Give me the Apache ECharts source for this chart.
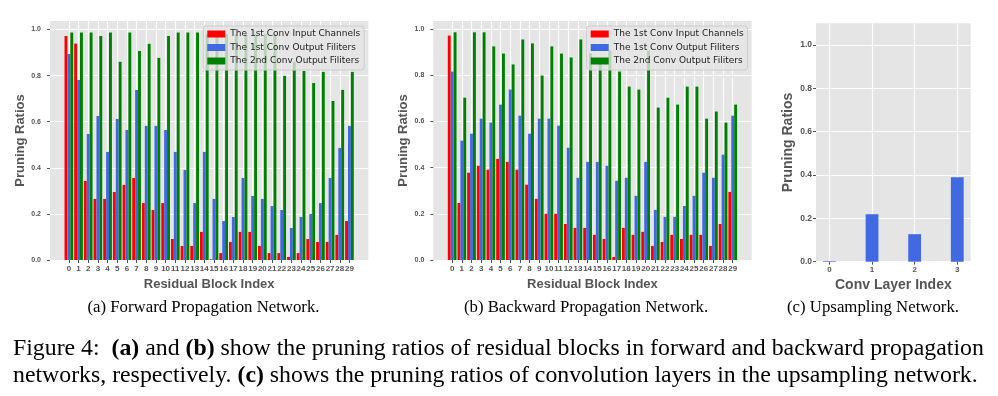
<!DOCTYPE html>
<html>
<head>
<meta charset="utf-8">
<script src="https://cdn.jsdelivr.net/npm/echarts@6/dist/echarts.min.js"></script>
<style>
html, body { margin: 0; padding: 0; background: #fff; }
#chart { width: 998px; height: 396px; }
</style>
</head>
<body>
<div id="chart"></div>
<script>
var blockIndex = [0, 1, 2, 3, 4, 5, 6, 7, 8, 9, 10, 11, 12, 13, 14, 15, 16, 17, 18, 19, 20, 21, 22, 23, 24, 25, 26, 27, 28, 29];
var layerIndex = [0, 1, 2, 3];
var yTicks = [0, 0.2, 0.4, 0.6, 0.8, 1.0];
var seriesNames = ["The 1st Conv Input Channels", "The 1st Conv Output Filiters", "The 2nd Conv Output Filiters"];

// (a) forward propagation network
var fwdInput = [0.972, 0.939, 0.343, 0.265, 0.265, 0.295, 0.326, 0.356, 0.247, 0.217, 0.247, 0.091, 0.061, 0.061, 0.122,
    0.003, 0.030, 0.078, 0.122, 0.122, 0.061, 0.030, 0.030, 0.013, 0.030, 0.091, 0.078, 0.078, 0.109, 0.169];
var fwdOutput = [0.894, 0.781, 0.547, 0.625, 0.469, 0.612, 0.564, 0.738, 0.582, 0.582, 0.564, 0.469, 0.391, 0.247, 0.469,
    0.265, 0.169, 0.187, 0.356, 0.278, 0.265, 0.234, 0.217, 0.139, 0.187, 0.200, 0.247, 0.356, 0.486, 0.582];
var fwdSecond = [0.987, 0.987, 0.987, 0.972, 0.987, 0.860, 0.987, 0.907, 0.938, 0.877, 0.972, 0.987, 0.987, 0.987, 0.980,
    0.980, 0.980, 0.980, 0.980, 0.980, 0.980, 0.980, 0.799, 0.860, 0.820, 0.768, 0.816, 0.690, 0.738, 0.816];

// (b) backward propagation network
var bwdInput = [0.972, 0.247, 0.378, 0.408, 0.391, 0.438, 0.425, 0.391, 0.326, 0.265, 0.200, 0.200, 0.156, 0.139, 0.139,
    0.109, 0.091, 0.013, 0.139, 0.109, 0.122, 0.061, 0.078, 0.109, 0.091, 0.109, 0.109, 0.061, 0.156, 0.295];
var bwdOutput = [0.816, 0.517, 0.547, 0.612, 0.595, 0.673, 0.738, 0.625, 0.547, 0.612, 0.612, 0.582, 0.486, 0.356, 0.425,
    0.425, 0.408, 0.343, 0.356, 0.278, 0.425, 0.217, 0.187, 0.187, 0.234, 0.278, 0.378, 0.356, 0.456, 0.625];
var bwdSecond = [0.986, 0.703, 0.986, 0.986, 0.925, 0.894, 0.847, 0.955, 0.938, 0.799, 0.925, 0.894, 0.877, 0.955, 0.894,
    0.864, 0.907, 0.816, 0.751, 0.738, 0.907, 0.660, 0.703, 0.673, 0.751, 0.751, 0.612, 0.643, 0.595, 0.673];

// (c) upsampling network
var upsampleRatios = [0.003, 0.219, 0.127, 0.390];

var colors = ["#ff0000", "#4169e1", "#008000"];
var grey = "#555555";
var sansBold = { fontFamily: "Liberation Sans", fontWeight: "bold", color: grey };

function pairs(index, values) {
    return values.map(function (v, i) { return [index[i], v]; });
}

function xAxisOf(grid, min, max, ticks, name, labelSize, labelMargin, nameSize) {
    return {
        gridIndex: grid, type: "value", min: min, max: max,
        name: name, nameLocation: "middle", nameGap: 16,
        nameTextStyle: Object.assign({ fontSize: nameSize }, sansBold),
        axisLine: { show: false, onZero: false },
        axisTick: { show: true, customValues: ticks, length: 3, lineStyle: { color: grey } },
        axisLabel: Object.assign({ customValues: ticks, margin: labelMargin, fontSize: labelSize }, sansBold),
        splitLine: { show: true, lineStyle: { color: "#ffffff", width: 1.2 } }
    };
}

function yAxisOf(grid, max, labelSize, labelMargin, nameGap, nameSize) {
    return {
        gridIndex: grid, type: "value", min: 0, max: max,
        name: "Pruning Ratios", nameLocation: "middle", nameGap: nameGap,
        nameTextStyle: Object.assign({ fontSize: nameSize }, sansBold),
        axisLine: { show: false, onZero: false },
        axisTick: { show: true, customValues: yTicks, length: 3, lineStyle: { color: grey } },
        axisLabel: Object.assign({
            customValues: yTicks, margin: labelMargin, fontSize: labelSize,
            formatter: function (v) { return v.toFixed(1); }
        }, sansBold),
        splitLine: { show: true, lineStyle: { color: "#ffffff", width: 1.2 } }
    };
}

function barsOf(axis, lists) {
    return lists.map(function (values, k) {
        return {
            name: seriesNames[k], type: "bar", xAxisIndex: axis, yAxisIndex: axis,
            data: pairs(blockIndex, values), barWidth: "30%", barGap: "0%",
            itemStyle: { color: colors[k] }
        };
    });
}

function legendAt(left) {
    return {
        left: left, top: 26, orient: "vertical", data: seriesNames, icon: "rect",
        itemWidth: 18, itemHeight: 7, itemGap: 1.5, padding: [2, 4, 3, 4],
        backgroundColor: "rgba(229,229,229,0.8)", borderColor: "#cccccc", borderWidth: 1, borderRadius: 3,
        selectedMode: false,
        textStyle: { fontFamily: "DejaVu Sans", fontSize: 9, color: "#222222", lineHeight: 12 }
    };
}

function caption(x, y, text, size, align) {
    return {
        type: "text", x: x, y: y,
        style: {
            text: text, fill: "#000000", align: align, verticalAlign: "middle",
            font: size + "px 'Liberation Serif'",
            rich: { b: { fontFamily: "Liberation Serif", fontWeight: "bold", fontSize: size, fill: "#000000" } }
        }
    };
}

var chart = echarts.init(document.getElementById("chart"));
var gridStyle = { show: true, backgroundColor: "#e5e5e5", borderWidth: 0 };

chart.setOption({
    animation: false,
    grid: [
        Object.assign({ left: 50, top: 21, width: 318.3, height: 239 }, gridStyle),
        Object.assign({ left: 433.3, top: 21, width: 318.3, height: 239 }, gridStyle),
        Object.assign({ left: 816, top: 23.3, width: 154.7, height: 238.4 }, gridStyle)
    ],
    xAxis: [
        xAxisOf(0, -1.95, 30.95, blockIndex, "Residual Block Index", 8, 5, 13),
        xAxisOf(1, -1.95, 30.95, blockIndex, "Residual Block Index", 8, 5, 13),
        xAxisOf(2, -0.315, 3.315, layerIndex, "Conv Layer Index", 8, 4, 14)
    ],
    yAxis: [
        yAxisOf(0, 1.037, 7, 9, 23, 13),
        yAxisOf(1, 1.035, 7, 9, 23, 13),
        yAxisOf(2, 1.1, 8.5, 4, 21, 14)
    ],
    legend: [legendAt(203.3), legendAt(586.7)],
    series: barsOf(0, [fwdInput, fwdOutput, fwdSecond])
        .concat(barsOf(1, [bwdInput, bwdOutput, bwdSecond]))
        .concat([{
            name: "upsampling", type: "bar", xAxisIndex: 2, yAxisIndex: 2,
            data: pairs(layerIndex, upsampleRatios), barWidth: "30%",
            itemStyle: { color: colors[1] }
        }]),
    graphic: [
        caption(203.5, 308, "(a) Forward Propagation Network.", 16.8, "center"),
        caption(586, 308, "(b) Backward Propagation Network.", 16.8, "center"),
        caption(873, 308, "(c) Upsampling Network.", 16.8, "center"),
        caption(13, 349, "Figure 4:  {b|(a)} and {b|(b)} show the pruning ratios of residual blocks in forward and backward propagation", 23.8, "left"),
        caption(13, 375.6, "networks, respectively. {b|(c)} shows the pruning ratios of convolution layers in the upsampling network.", 23.8, "left")
    ]
});
</script>
</body>
</html>
